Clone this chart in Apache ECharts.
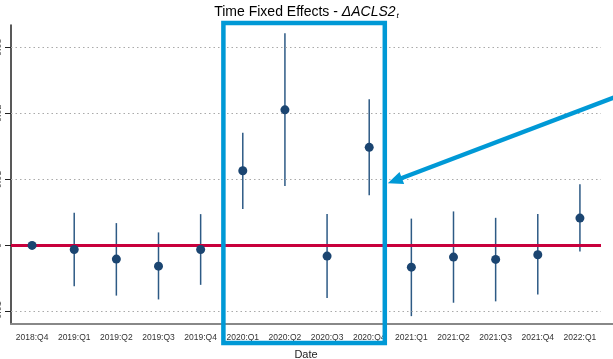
<!DOCTYPE html>
<html>
<head>
<meta charset="utf-8">
<script src="https://cdn.jsdelivr.net/npm/echarts@6/dist/echarts.min.js"></script>
<style>html,body{margin:0;padding:0;background:#fff}#c{width:613px;height:359px}</style>
</head>
<body>
<div id="c"></div>
<script>
const categories = ['2018:Q4','2019:Q1','2019:Q2','2019:Q3','2019:Q4','2020:Q1','2020:Q2','2020:Q3','2020:Q4','2021:Q1','2021:Q2','2021:Q3','2021:Q4','2022:Q1'];
const estimates = [0, -0.00061, -0.00207, -0.00314, -0.00061, 0.01130, 0.02053, -0.00162, 0.01485, -0.00329, -0.00177, -0.00212, -0.00142, 0.00414];
const ciLow  = [null, -0.00617, -0.00760, -0.00818, -0.00597, 0.00553, 0.00898, -0.00798, 0.00758, -0.01071, -0.00868, -0.00847, -0.00745, -0.00091];
const ciHigh = [null, 0.00494, 0.00338, 0.00197, 0.00474, 0.01706, 0.03212, 0.00474, 0.02212, 0.00406, 0.00515, 0.00418, 0.00474, 0.00927];
const yTicks = [-0.01, 0, 0.01, 0.02, 0.03];
const gridValues = [-0.01, 0.01, 0.02, 0.03];
const highlightFrom = '2020:Q1';
const highlightTo = '2020:Q4';

const chart = echarts.init(document.getElementById('c'), null, {renderer: 'canvas'});
const FONT = 'Liberation Sans, Arial, Helvetica, sans-serif';
const ptColor = '#1b4571';
const annColor = '#0099d6';

chart.setOption({
  animation: false,
  textStyle: {fontFamily: FONT},
  title: {
    left: 'center', top: 0,
    text: '{a|Time Fixed Effects - }{b|ΔACLS2}{c|t}',
    textStyle: {
      fontWeight: 'normal',
      rich: {
        a: {fontSize: 14, color: '#000', fontWeight: 'normal', fontFamily: FONT},
        b: {fontSize: 14, color: '#000', fontWeight: 'normal', fontStyle: 'italic', fontFamily: FONT},
        c: {fontSize: 8, color: '#000', fontWeight: 'normal', fontStyle: 'italic', fontFamily: FONT, padding: [7, 0, 0, 1]}
      }
    }
  },
  grid: {left: 11, right: 12, top: 25, bottom: 35, containLabel: false, outerBoundsMode: 'none'},
  xAxis: {
    type: 'category', data: categories, boundaryGap: true,
    name: 'Date', nameLocation: 'middle', nameGap: 25,
    nameTextStyle: {fontSize: 11, color: '#222', fontFamily: FONT},
    axisLine: {onZero: false, lineStyle: {color: '#888', width: 2}},
    axisTick: {alignWithLabel: true, length: 5, lineStyle: {color: '#333', width: 1}},
    axisLabel: {fontSize: 8.5, color: '#333', margin: 9, interval: 0, fontFamily: FONT},
    splitLine: {show: false}
  },
  yAxis: {
    type: 'value', min: -0.0119, max: 0.03338,
    axisLine: {show: true, onZero: false, lineStyle: {color: '#222', width: 1.5}},
    axisTick: {show: true, length: 6, customValues: yTicks, lineStyle: {color: '#222', width: 1}},
    axisLabel: {show: true, customValues: yTicks, rotate: 90, margin: 8, fontSize: 9, color: '#555', fontFamily: FONT},
    splitLine: {show: false}
  },
  series: [
    {
      type: 'custom',
      z: 3,
      renderItem: function (params, api) {
        const i = params.dataIndex;
        const lo = api.value(1), hi = api.value(2);
        if (lo == null || hi == null || isNaN(lo) || isNaN(hi)) return;
        const p1 = api.coord([i, lo]);
        const p2 = api.coord([i, hi]);
        return {type: 'line', shape: {x1: p1[0], y1: p1[1], x2: p2[0], y2: p2[1]},
                style: {stroke: '#2d5a85', lineWidth: 1.5}};
      },
      data: categories.map((c, i) => [i, ciLow[i], ciHigh[i]])
    },
    {
      type: 'scatter', z: 5,
      symbol: 'circle', symbolSize: 9,
      itemStyle: {color: ptColor, opacity: 1},
      data: estimates.map((v, i) => [i, v]),
      markLine: {
        silent: true, symbol: 'none', label: {show: false},
        data: gridValues.map(v => ({yAxis: v, lineStyle: {color: '#aaa', type: [1.5, 3], width: 1.2}}))
          .concat([{yAxis: 0, lineStyle: {color: '#c8003c', type: 'solid', width: 3}}])
      }
    }
  ]
});

function drawAnnotations() {
  const xa = chart.convertToPixel({xAxisIndex: 0}, highlightFrom);
  const xb = chart.convertToPixel({xAxisIndex: 0}, highlightTo);
  const band = chart.convertToPixel({xAxisIndex: 0}, categories[1]) - chart.convertToPixel({xAxisIndex: 0}, categories[0]);
  const left = xa - band * 0.46;
  const right = xb + band * 0.37;
  const top = 23, bottom = 343;
  const tipY = chart.convertToPixel({yAxisIndex: 0}, 0.0094);
  const tipX = right + 3;
  const sx = 613, sy = 98;
  const ang = Math.atan2(sy - tipY, sx - tipX);
  const hl = 15, hw = 6.5;
  const bx = tipX + Math.cos(ang) * hl, by = tipY + Math.sin(ang) * hl;
  const nx = -Math.sin(ang), ny = Math.cos(ang);
  const axisY = chart.convertToPixel({yAxisIndex: 0}, -0.0119);
  const axisEnd = chart.convertToPixel({xAxisIndex: 0}, categories[categories.length - 1]) + band / 2;
  chart.setOption({
    graphic: [
      {type: 'line', z: 1, shape: {x1: axisEnd, y1: axisY, x2: 613, y2: axisY},
       style: {stroke: '#888', lineWidth: 2}},
      {type: 'rect', z: 100, shape: {x: left, y: top, width: right - left, height: bottom - top},
       style: {fill: 'none', stroke: annColor, lineWidth: 4.5}},
      {type: 'line', z: 100, shape: {x1: sx + 5, y1: sy - 2, x2: bx - Math.cos(ang) * 2, y2: by - Math.sin(ang) * 2},
       style: {stroke: annColor, lineWidth: 4.5}},
      {type: 'polygon', z: 100, shape: {points: [[tipX, tipY], [bx + nx * hw, by + ny * hw], [bx - nx * hw, by - ny * hw]]},
       style: {fill: annColor}}
    ]
  });
}
drawAnnotations();
</script>
</body>
</html>
